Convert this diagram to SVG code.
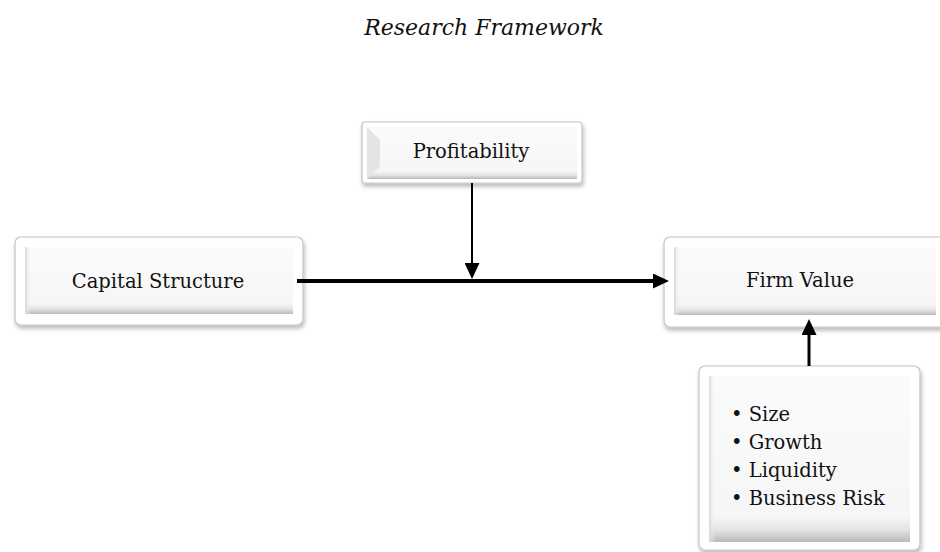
<svg xmlns="http://www.w3.org/2000/svg" width="940" height="552" viewBox="0 0 940 552">
  <style>
    .t { font-family: "DejaVu Serif", "Liberation Serif", serif; font-size: 19.5px; fill: #111; }
    .title { font-family: "DejaVu Serif", "Liberation Serif", serif; font-size: 22px; font-style: italic; fill: #111; }
    .outer { fill: #ffffff; stroke: #c4c4c4; stroke-width: 1.2; }
    .inner { fill: url(#face); stroke: none; }
    .conn { stroke: #000; fill: none; }
  </style>
  <defs>
    <filter id="sh" x="-10%" y="-10%" width="130%" height="140%">
      <feDropShadow dx="1" dy="3" stdDeviation="2.2" flood-color="#000" flood-opacity="0.28"/>
    </filter>
    <linearGradient id="face" x1="0" y1="0" x2="0" y2="1">
      <stop offset="0" stop-color="#fbfbfb"/>
      <stop offset="0.85" stop-color="#f6f6f6"/>
      <stop offset="0.93" stop-color="#e2e2e2"/>
      <stop offset="1" stop-color="#b9b9b9"/>
    </linearGradient>
    <linearGradient id="lside" x1="0" y1="0" x2="1" y2="0">
      <stop offset="0" stop-color="#d8d8d8"/>
      <stop offset="1" stop-color="#f6f6f6" stop-opacity="0"/>
    </linearGradient>
    <marker id="arrow" viewBox="0 0 16 15" refX="1" refY="7.5" markerWidth="16" markerHeight="15" markerUnits="userSpaceOnUse" orient="auto">
      <path d="M0,0 L16,7.5 L0,15 z" fill="#000"/>
    </marker>
  </defs>

  <rect width="940" height="552" fill="#ffffff"/>

  <text class="title" x="484" y="35" text-anchor="middle">Research Framework</text>

  <g id="capital-structure">
    <rect class="outer" x="15" y="237" width="288" height="88" rx="6" filter="url(#sh)"/>
    <rect class="inner" x="25" y="247" width="268" height="67"/>
    <rect x="25" y="247" width="6" height="67" fill="url(#lside)"/>
    <text class="t" x="158" y="288" text-anchor="middle">Capital Structure</text>
  </g>

  <g id="profitability">
    <rect class="outer" x="362" y="122" width="220" height="61" rx="3" filter="url(#sh)"/>
    <rect class="inner" x="367" y="127" width="210" height="52"/>
    <polygon points="367,127 380,140 380,166 367,179" fill="#e4e4e4"/>
    <text class="t" x="471" y="158" text-anchor="middle">Profitability</text>
  </g>

  <g id="firm-value">
    <rect class="outer" x="664" y="237" width="290" height="90" rx="6" filter="url(#sh)"/>
    <rect class="inner" x="674" y="247" width="262" height="68"/>
    <rect x="674" y="247" width="6" height="68" fill="url(#lside)"/>
    <text class="t" x="800" y="287" text-anchor="middle">Firm Value</text>
  </g>

  <g id="controls">
    <rect class="outer" x="699" y="366" width="221" height="184" rx="6" filter="url(#sh)"/>
    <rect class="inner" x="709" y="376" width="201" height="166"/>
    <rect x="709" y="376" width="6" height="166" fill="url(#lside)"/>
    <text class="t" x="731" y="421">• Size</text>
    <text class="t" x="731" y="449">• Growth</text>
    <text class="t" x="731" y="477">• Liquidity</text>
    <text class="t" x="731" y="505">• Business Risk</text>
  </g>

  <g id="connectors">
    <line class="conn" x1="297" y1="281" x2="654" y2="281" stroke-width="4" marker-end="url(#arrow)"/>
    <line class="conn" x1="472" y1="183" x2="472" y2="264" stroke-width="2" marker-end="url(#arrow)"/>
    <line class="conn" x1="809" y1="366" x2="809" y2="334" stroke-width="3" marker-end="url(#arrow)"/>
  </g>
</svg>
